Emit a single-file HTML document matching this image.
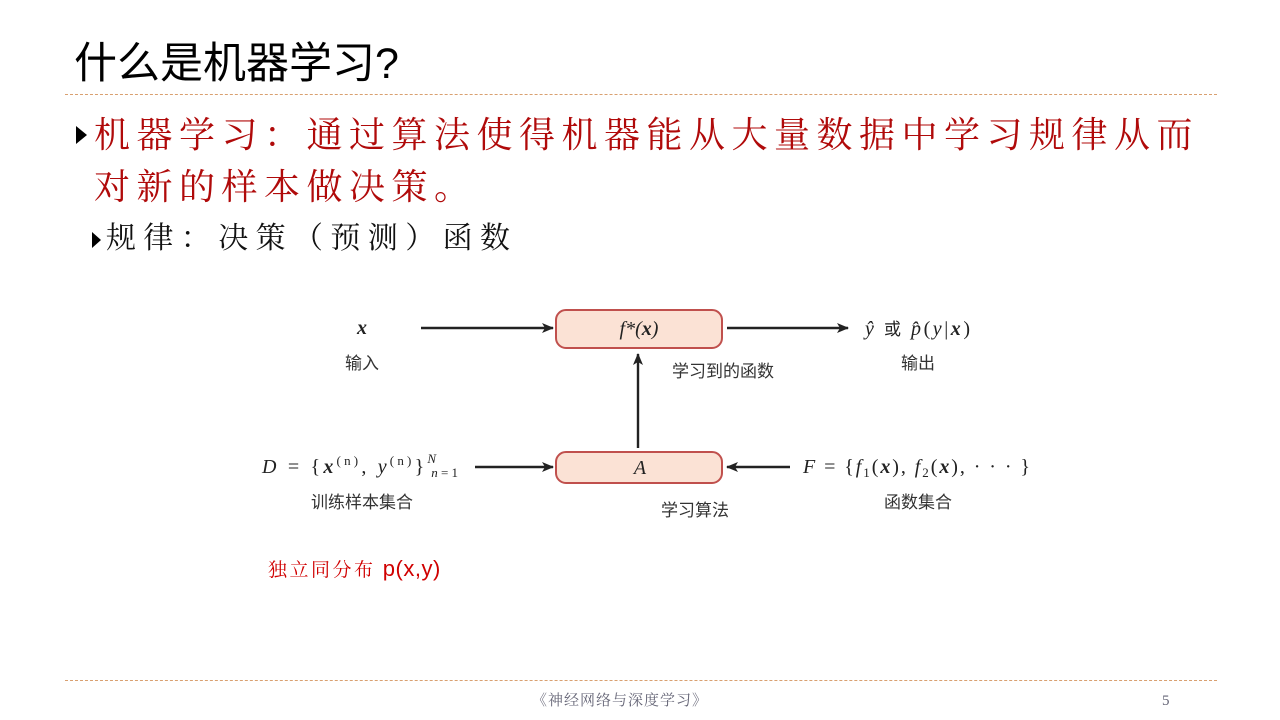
<!DOCTYPE html>
<html><head><meta charset="utf-8"><style>
body{margin:0;width:1280px;height:720px;background:#fff;position:relative;overflow:hidden;font-family:"Liberation Sans","Noto Sans CJK SC",sans-serif}
.a{position:absolute;white-space:nowrap}
.kai{font-family:"Liberation Serif","Noto Serif CJK SC",serif}
.tri{display:inline-block;width:0;height:0;border-top:9px solid transparent;border-bottom:9px solid transparent;border-left:11px solid #000;vertical-align:middle}
</style></head><body>
<div class="a" style="left:74px;top:38px;font-size:43px;color:#000;line-height:52px">什么是机器学习?</div>
<div class="a" style="left:65px;top:94px;width:1152px;border-top:1px dashed #d9a070"></div>
<div class="a" style="left:76px;top:126px"><span class="tri"></span></div>
<div class="a kai" style="left:94px;top:112px;font-size:36px;letter-spacing:6.5px;color:#b00a0a;line-height:46px">机器学习：通过算法使得机器能从大量数据中学习规律从而</div>
<div class="a kai" style="left:94px;top:164px;font-size:36px;letter-spacing:6.5px;color:#b00a0a;line-height:46px">对新的样本做决策。</div>
<div class="a" style="left:92px;top:231px"><span class="tri" style="border-top-width:8px;border-bottom-width:8px;border-left-width:9px"></span></div>
<div class="a kai" style="left:106px;top:219px;font-size:30px;letter-spacing:7.4px;color:#111;line-height:40px">规律：决策（预测）函数</div>
<svg class="a" style="left:0;top:0" width="1280" height="720">
<defs><marker id="ar" markerWidth="12" markerHeight="10" refX="11" refY="5" orient="auto" markerUnits="userSpaceOnUse"><path d="M0,0 L12,5 L0,10 L3,5z" fill="#222"/></marker></defs>
<rect x="556" y="310" width="166" height="38" rx="10" fill="#fbe2d5" stroke="#c0504d" stroke-width="2"/>
<rect x="556" y="452" width="166" height="31" rx="10" fill="#fbe2d5" stroke="#c0504d" stroke-width="2"/>
<g stroke="#222" stroke-width="2.4" marker-end="url(#ar)">
<line x1="421" y1="328" x2="553" y2="328"/>
<line x1="727" y1="328" x2="848" y2="328"/>
<line x1="638" y1="448" x2="638" y2="354"/>
<line x1="475" y1="467" x2="553" y2="467"/>
<line x1="790" y1="467" x2="727" y2="467"/>
</g>
<g font-family="Liberation Serif,serif" font-size="20" fill="#222">
<text x="362" y="334" text-anchor="middle" font-weight="bold" font-style="italic">x</text>
<text x="639" y="335" text-anchor="middle" font-style="italic">f*(<tspan font-weight="bold">x</tspan>)</text>
<text x="640" y="474" text-anchor="middle" font-style="italic">A</text>
<text x="865" y="335" textLength="105" lengthAdjust="spacing"><tspan font-style="italic">ŷ</tspan> <tspan font-family="Noto Sans CJK SC,sans-serif" font-size="17">或</tspan> <tspan font-style="italic">p̂</tspan>(<tspan font-style="italic">y</tspan>|<tspan font-weight="bold" font-style="italic">x</tspan>)</text>
<text x="262" y="473" textLength="196" lengthAdjust="spacing"><tspan font-style="italic">D</tspan> = {<tspan font-weight="bold" font-style="italic">x</tspan><tspan font-size="13" dy="-8">(n)</tspan><tspan dy="8">, </tspan><tspan font-style="italic">y</tspan><tspan font-size="13" dy="-8">(n)</tspan><tspan dy="8">}</tspan><tspan font-size="13" dy="-10" font-style="italic">N</tspan><tspan font-size="13" dy="14" dx="-8" font-style="italic">n</tspan><tspan font-size="13">=1</tspan></text>
<text x="803" y="473" textLength="227" lengthAdjust="spacing"><tspan font-style="italic">F</tspan> = {<tspan font-style="italic">f</tspan><tspan font-size="13" dy="4">1</tspan><tspan dy="-4">(</tspan><tspan font-weight="bold" font-style="italic">x</tspan>), <tspan font-style="italic">f</tspan><tspan font-size="13" dy="4">2</tspan><tspan dy="-4">(</tspan><tspan font-weight="bold" font-style="italic">x</tspan>), · · · }</text>
</g>
<g font-family="Noto Sans CJK SC,sans-serif" font-size="17" fill="#333" text-anchor="middle">
<text x="362" y="369">输入</text>
<text x="918" y="369">输出</text>
<text x="723" y="377">学习到的函数</text>
<text x="362" y="508">训练样本集合</text>
<text x="695" y="516">学习算法</text>
<text x="918" y="508">函数集合</text>
</g>
</svg>
<div class="a kai" style="left:268px;top:555px;font-size:19px;letter-spacing:2.5px;color:#d00000;line-height:28px">独立同分布 <span style="font-family:'Liberation Sans',sans-serif;font-size:22px;letter-spacing:0.5px">p(x,y)</span></div>
<div class="a" style="left:65px;top:680px;width:1152px;border-top:1px dashed #d9a070"></div>
<div class="a kai" style="left:532px;top:690px;font-size:15px;letter-spacing:1px;color:#667;line-height:22px">《神经网络与深度学习》</div>
<div class="a kai" style="left:1162px;top:690px;font-size:15px;color:#667;line-height:22px">5</div>
</body></html>
